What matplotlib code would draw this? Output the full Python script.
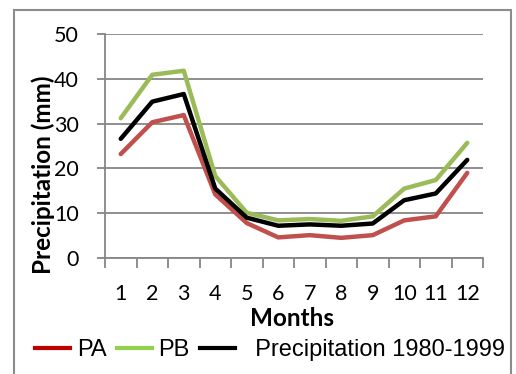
import matplotlib
matplotlib.use("Agg")
import matplotlib.pyplot as plt
from matplotlib.lines import Line2D
from matplotlib.patches import Rectangle

months = [1, 2, 3, 4, 5, 6, 7, 8, 9, 10, 11, 12]
month_labels = ["1", "2", "3", "4", "5", "6", "7", "8", "9", "10", "11", "12"]
pa = [23.2, 30.3, 31.9, 14.2, 7.8, 4.6, 5.1, 4.5, 5.1, 8.4, 9.3, 19.0]
pb = [31.2, 40.9, 41.8, 18.3, 10.1, 8.4, 8.7, 8.3, 9.3, 15.5, 17.4, 25.7]
precip = [26.6, 34.9, 36.6, 15.5, 9.0, 7.2, 7.5, 7.2, 7.7, 12.9, 14.4, 21.9]
y_ticks = [0, 10, 20, 30, 40, 50]

W, H = 516, 374
fig = plt.figure(figsize=(W / 100, H / 100), dpi=100)
fig.patch.set_facecolor("white")

# outer frame
fig.patches.append(Rectangle((14 / W, -0.1), (511 - 14) / W, 1.1 - 10 / H,
                             transform=fig.transFigure, fill=False,
                             edgecolor="#8c8c8c", linewidth=1.5))

ax = fig.add_axes([105 / W, 1 - 258 / H, (483 - 105) / W, (258 - 34) / H])
gray = "#868686"
ax.plot(months, pa, color="#C0504D", lw=3.2, solid_capstyle="round", zorder=3)
ax.plot(months, pb, color="#9BBB59", lw=3.2, solid_capstyle="round", zorder=3)
ax.plot(months, precip, color="black", lw=3.2, solid_capstyle="round", zorder=4)

ax.set_xlim(0.5, 12.5)
ax.set_ylim(0, 50)
ax.set_yticks(y_ticks)
ax.set_yticklabels([str(v) for v in y_ticks], fontfamily="Lato", fontsize=15.5)
ax.set_xticks(months)
ax.set_xticklabels(month_labels, fontfamily="Lato", fontsize=15.5)
ax.set_xticks([m + 0.5 for m in [0] + months], minor=True)
ax.tick_params(axis="x", which="major", length=0, pad=19)
ax.tick_params(axis="x", which="minor", length=7, width=1.3, color=gray, direction="out")
ax.tick_params(axis="y", length=6, width=1.3, color=gray, pad=13)
ax.grid(axis="y", color=gray, lw=1.3)
ax.set_axisbelow(True)
for s in ["top", "right"]:
    ax.spines[s].set_visible(False)
for s in ["left", "bottom"]:
    ax.spines[s].set_color(gray)
    ax.spines[s].set_linewidth(1.3)

fig.text(43 / W, 1 - 175 / H, "Precipitation (mm)", rotation=90, ha="center", va="center",
         fontfamily="Lato", fontweight="bold", fontsize=17.5)
fig.text(292 / W, 1 - 318 / H, "Months", ha="center", va="center",
         fontfamily="Lato", fontweight="bold", fontsize=17.5)

handles = [Line2D([], [], color="#C00000", lw=3),
           Line2D([], [], color="#92D050", lw=3),
           Line2D([], [], color="black", lw=3)]
labels = ["PA", "PB", "  Precipitation 1980-1999"]
fig.legend(handles, labels, loc="center left", bbox_to_anchor=(35 / W, 1 - 350 / H),
           ncol=3, frameon=False, prop={"family": "Liberation Sans", "size": 17},
           handlelength=1.48, handletextpad=0.3, columnspacing=0.42, borderpad=0, borderaxespad=0)

fig.savefig("out.png", dpi=100)
